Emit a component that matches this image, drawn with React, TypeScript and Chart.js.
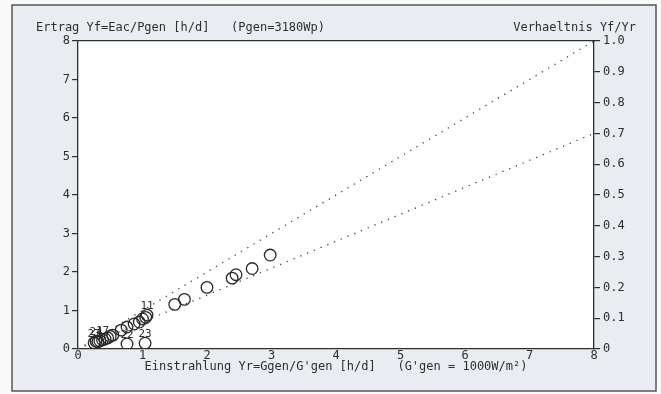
import React, { useEffect, useRef } from "react";
import { Chart, registerables } from "chart.js";

Chart.register(...registerables);

const yr: number[] = [0.25, 0.28, 0.31, 0.34, 0.38, 0.42, 0.46, 0.5, 0.54, 0.67, 0.76, 0.87, 0.95, 1.0, 1.05, 1.07, 0.76, 1.04, 1.5, 1.65, 2.0, 2.39, 2.45, 2.7, 2.98];
const yf: number[] = [0.16, 0.2, 0.19, 0.21, 0.24, 0.26, 0.29, 0.33, 0.36, 0.49, 0.57, 0.65, 0.7, 0.78, 0.82, 0.88, 0.13, 0.15, 1.16, 1.29, 1.6, 1.84, 1.93, 2.09, 2.44];
const pointLabels: string[] = ["27", "24", "", "", "17", "", "", "", "", "", "", "", "", "", "", "11", "22", "23", "", "", "", "", "", "", ""];
const ratioLines: number[] = [1.0, 0.7];
const xTicks: number[] = [0, 1, 2, 3, 4, 5, 6, 7, 8];

const leftTitle = "Ertrag Yf=Eac/Pgen [h/d]   (Pgen=3180Wp)";
const rightTitle = "Verhaeltnis Yf/Yr";
const xTitle = "Einstrahlung Yr=Ggen/G'gen [h/d]   (G'gen = 1000W/m²)";

const FONT = "'DejaVu Sans Mono', 'Liberation Mono', monospace";
const INK = "#2e2e2e";

export default function App() {
  const ref = useRef<HTMLCanvasElement | null>(null);
  useEffect(() => {
    document.body.style.margin = "0";
    const canvas = ref.current!;
    const bgPlugin = {
      id: "paper",
      beforeDraw(chart: any) {
        const ctx = chart.ctx;
        const a = chart.chartArea;
        ctx.save();
        ctx.fillStyle = "#f9f9f9";
        ctx.fillRect(0, 0, chart.width, chart.height);
        ctx.fillStyle = "#e9edf1";
        ctx.fillRect(12, 5, 644, 386);
        ctx.strokeStyle = "#555";
        ctx.lineWidth = 1.5;
        ctx.strokeRect(12, 5, 644, 386);
        ctx.fillStyle = "#ffffff";
        ctx.fillRect(a.left, a.top, a.right - a.left, a.bottom - a.top);
        ctx.restore();
      },
      afterDraw(chart: any) {
        const ctx = chart.ctx;
        const xs = chart.scales.x;
        const ys = chart.scales.y;
        ctx.save();
        ctx.fillStyle = INK;
        ctx.font = `12px ${FONT}`;
        ctx.textBaseline = "middle";
        ctx.textAlign = "left";
        ctx.fillText(leftTitle, 36, 28);
        ctx.textAlign = "right";
        ctx.fillText(rightTitle, 636, 28);
        ctx.textAlign = "center";
        ctx.font = `11px ${FONT}`;
        pointLabels.forEach((t, i) => {
          if (!t) return;
          ctx.fillText(t, xs.getPixelForValue(yr[i]), ys.getPixelForValue(yf[i]) - 9);
        });
        ctx.restore();
      },
    };

    const lineSets = ratioLines.map((r) => ({
      type: "line" as const,
      data: [
        { x: 0, y: 0 },
        { x: 8, y: 8 * r },
      ],
      borderColor: "#444",
      borderWidth: 1.3,
      borderDash: [1.3, 6],
      pointRadius: 0,
      fill: false,
    }));

    const chart = new Chart(canvas, {
      type: "scatter",
      data: {
        datasets: [
          {
            type: "scatter",
            data: yr.map((x, i) => ({ x, y: yf[i] })),
            pointStyle: "circle",
            pointRadius: 5.8,
            borderColor: "#2a2a2a",
            borderWidth: 1.3,
            backgroundColor: "rgba(0,0,0,0)",
          },
          ...lineSets,
        ] as any,
      },
      options: {
        responsive: false,
        animation: false,
        layout: { padding: { top: 41, left: 0, right: 0, bottom: 0 } },
        plugins: { legend: { display: false }, tooltip: { enabled: false } },
        scales: {
          x: {
            type: "linear",
            min: 0,
            max: 8,
            afterBuildTicks: (s: any) => {
              s.ticks = xTicks.map((v) => ({ value: v }));
            },
            grid: { display: false, drawTicks: false },
            border: { display: true, color: INK, width: 1.3 },
            ticks: { color: INK, font: { family: FONT, size: 12 }, padding: 0 },
            title: {
              display: true,
              text: xTitle,
              color: INK,
              font: { family: FONT, size: 12 },
              padding: { top: 0, bottom: 20 },
            },
            afterFit: (s: any) => {
              s.height = 45;
            },
          },
          x2: {
            type: "linear",
            position: "top",
            min: 0,
            max: 8,
            grid: { display: false, drawTicks: false },
            border: { display: true, color: INK, width: 1.3 },
            ticks: { display: false },
            afterFit: (s: any) => {
              s.height = 0;
            },
          },
          y: {
            type: "linear",
            position: "left",
            min: 0,
            max: 8,
            ticks: { stepSize: 1, color: INK, font: { family: FONT, size: 12 }, padding: 2 },
            grid: { drawOnChartArea: false, drawTicks: true, tickLength: 6, color: INK, lineWidth: 1.2 },
            border: { display: true, color: INK, width: 1.3 },
            afterFit: (s: any) => {
              s.width = 78;
            },
          },
          y2: {
            type: "linear",
            position: "right",
            min: 0,
            max: 1,
            ticks: {
              stepSize: 0.1,
              color: INK,
              font: { family: FONT, size: 12 },
              padding: 3,
              callback: (v: any) => (v === 0 ? "0" : Number(v).toFixed(1)),
            },
            grid: { drawOnChartArea: false, drawTicks: true, tickLength: 6, color: INK, lineWidth: 1.2 },
            border: { display: true, color: INK, width: 1.3 },
            afterFit: (s: any) => {
              s.width = 67;
            },
          },
        },
      } as any,
      plugins: [bgPlugin],
    });
    return () => chart.destroy();
  }, []);
  return <canvas ref={ref} width={661} height={394} style={{ display: "block" }} />;
}
